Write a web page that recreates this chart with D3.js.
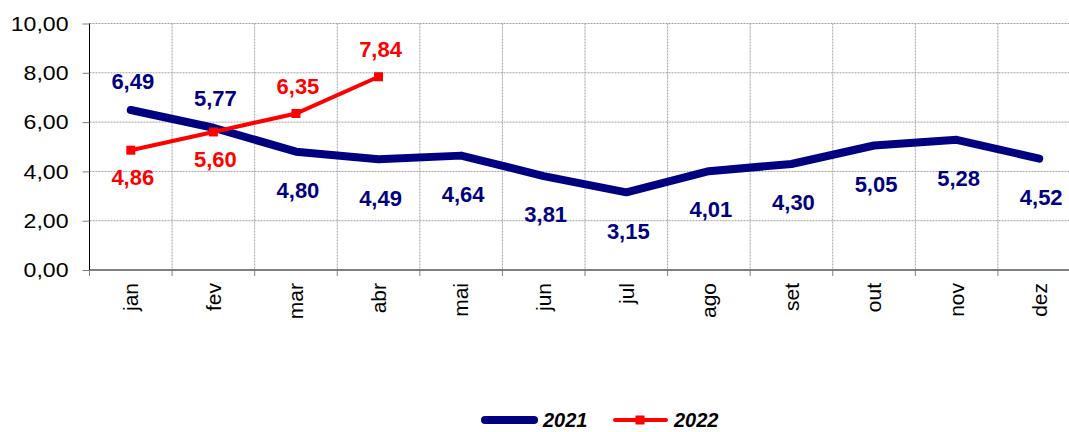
<!DOCTYPE html>
<html>
<head>
<meta charset="utf-8">
<script src="https://cdn.jsdelivr.net/npm/d3@7"></script>
<style>
  body { margin: 0; background: #fff; }
  svg { display: block; font-family: "Liberation Sans", Arial, sans-serif; }
</style>
</head>
<body>
<div id="chart"></div>
<script>
// data
var months = ["jan", "fev", "mar", "abr", "mai", "jun", "jul", "ago", "set", "out", "nov", "dez"];
var values2021 = [6.49, 5.77, 4.80, 4.49, 4.64, 3.81, 3.15, 4.01, 4.30, 5.05, 5.28, 4.52];
var values2022 = [4.86, 5.60, 6.35, 7.84];
var side2021 = ["up", "up", "down", "down", "down", "down", "down", "down", "down", "down", "down", "down"];
var side2022 = ["down", "down", "up", "up"];
var yTicks = [0, 2, 4, 6, 8, 10];

var width = 1069, height = 432;
var margin = { left: 89.5, top: 23.5, bottom: 162 };
var plotW = 991; // runs past the right edge like the original
var plotH = height - margin.top - margin.bottom;

var fmt = function (v) { return v.toFixed(2).replace(".", ","); };

var svg = d3.select("#chart").append("svg")
  .attr("width", width)
  .attr("height", height);

var g = svg.append("g")
  .attr("transform", "translate(" + margin.left + "," + margin.top + ")");

var x = d3.scaleBand().domain(months).range([0, plotW]);
var y = d3.scaleLinear().domain([0, 10]).range([plotH, 0]);
var cx = function (m) { return x(m) + x.bandwidth() / 2; };

// grid
g.selectAll("line.hgrid")
  .data(yTicks.filter(function (d) { return d > 0; }))
  .enter().append("line")
  .attr("class", "hgrid")
  .attr("x1", 0).attr("x2", plotW)
  .attr("y1", function (d) { return y(d); })
  .attr("y2", function (d) { return y(d); })
  .style("stroke", "#a0a0a0")
  .style("stroke-dasharray", "2,1");

g.selectAll("line.vgrid")
  .data(months.slice(1))
  .enter().append("line")
  .attr("class", "vgrid")
  .attr("x1", function (d) { return x(d); })
  .attr("x2", function (d) { return x(d); })
  .attr("y1", 0).attr("y2", plotH)
  .style("stroke", "#a0a0a0")
  .style("stroke-dasharray", "2,1");

// y axis
var yAxis = g.append("g")
  .call(d3.axisLeft(y).tickValues(yTicks).tickFormat(fmt).tickSize(7).tickPadding(14));
yAxis.select(".domain").style("stroke", "#000").attr("d", "M0," + plotH + "V0");
yAxis.selectAll(".tick line").style("stroke", "#808080");
// the original's tick numbers are a bit wider than Liberation Sans
yAxis.selectAll("text")
  .style("font-size", "21px")
  .style("fill", "#000")
  .attr("x", null)
  .attr("transform", "translate(-21,0) scale(1.1,1)");

// x axis
var xAxis = g.append("g")
  .attr("transform", "translate(0," + plotH + ")")
  .call(d3.axisBottom(x).tickSize(0).tickFormat(function (d) { return d; }));
xAxis.select(".domain").style("stroke", "#000").attr("d", "M0,0H" + plotW);
xAxis.selectAll("text")
  .style("font-size", "21px")
  .style("fill", "#000")
  .attr("transform", "rotate(-90)")
  .attr("text-anchor", "end")
  .attr("x", -13)
  .attr("y", 0)
  .attr("dy", "0.35em");
g.selectAll("line.xtick")
  .data(months)
  .enter().append("line")
  .attr("class", "xtick")
  .attr("x1", function (d) { return x(d); })
  .attr("x2", function (d) { return x(d); })
  .attr("y1", plotH).attr("y2", plotH + 6)
  .style("stroke", "#808080");

// lines
var line = d3.line()
  .x(function (d, i) { return cx(months[i]); })
  .y(function (d) { return y(d); });

g.append("path")
  .datum(values2021)
  .attr("d", line)
  .style("fill", "none")
  .style("stroke", "#000080")
  .style("stroke-width", 8)
  .style("stroke-linecap", "round")
  .style("stroke-linejoin", "round");

g.append("path")
  .datum(values2022)
  .attr("d", line)
  .style("fill", "none")
  .style("stroke", "#ff0000")
  .style("stroke-width", 4);

g.selectAll("rect.m22")
  .data(values2022)
  .enter().append("rect")
  .attr("class", "m22")
  .attr("x", function (d, i) { return cx(months[i]) - 4.5; })
  .attr("y", function (d) { return y(d) - 4.5; })
  .attr("width", 9).attr("height", 9)
  .style("fill", "#ff0000");

// value labels
function addLabels(vals, sides, color, upOff, downOff) {
  g.selectAll(null)
    .data(vals)
    .enter().append("text")
    .attr("x", function (d, i) { return cx(months[i]) + 2; })
    .attr("y", function (d, i) { return y(d) + (sides[i] == "up" ? -upOff : downOff); })
    .attr("dy", "0.35em")
    .attr("text-anchor", "middle")
    .style("font-size", "22px")
    .style("font-weight", "bold")
    .style("fill", color)
    .text(fmt);
}
addLabels(values2021, side2021, "#000080", 29, 38.5);
addLabels(values2022, side2022, "#ff0000", 27.5, 27.5);

// legend (kept just inside the bottom edge)
var lg = svg.append("g").attr("transform", "translate(0,420)");
lg.append("line")
  .attr("x1", 485).attr("x2", 534).attr("y1", 0).attr("y2", 0)
  .style("stroke", "#000080").style("stroke-width", 8).style("stroke-linecap", "round");
lg.append("text")
  .attr("x", 543).attr("y", 0).attr("dy", "0.35em")
  .style("font-size", "20px").style("font-weight", "bold").style("font-style", "italic")
  .text("2021");
lg.append("line")
  .attr("x1", 615).attr("x2", 666).attr("y1", 0).attr("y2", 0)
  .style("stroke", "#ff0000").style("stroke-width", 4).style("stroke-linecap", "round");
lg.append("rect")
  .attr("x", 635.5).attr("y", -4.5).attr("width", 9).attr("height", 9)
  .style("fill", "#ff0000");
lg.append("text")
  .attr("x", 674).attr("y", 0).attr("dy", "0.35em")
  .style("font-size", "20px").style("font-weight", "bold").style("font-style", "italic")
  .text("2022");
</script>
</body>
</html>
